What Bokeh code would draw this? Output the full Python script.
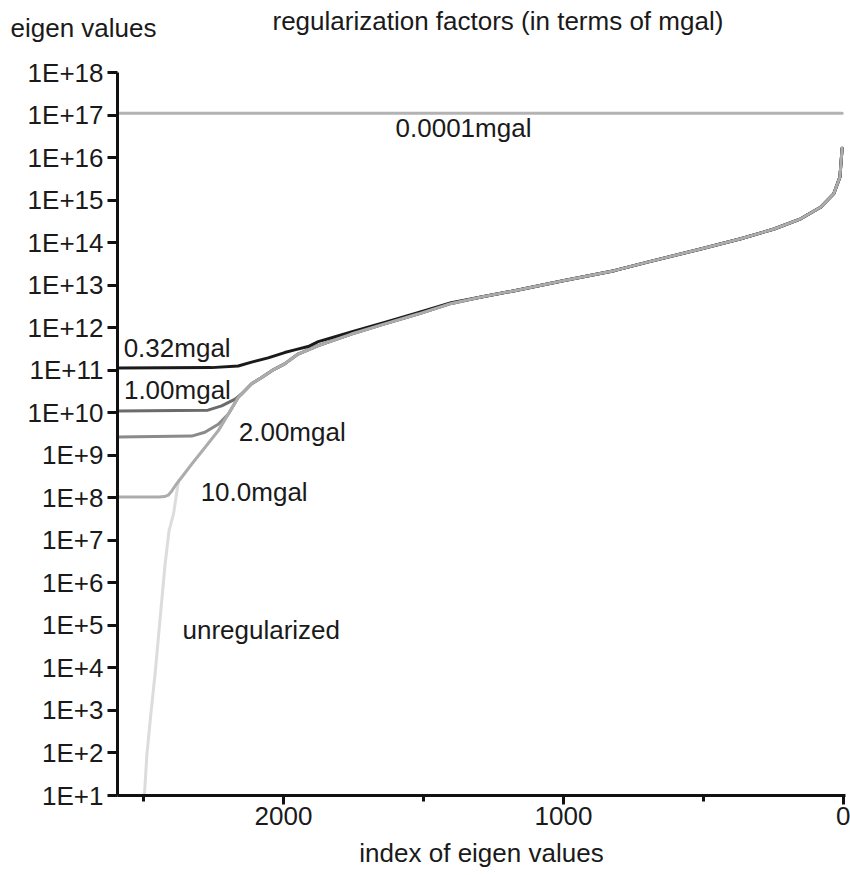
from bokeh.plotting import figure
from bokeh.layouts import column
from bokeh.models import Range1d, FixedTicker, CustomJSTickFormatter, Label
from bokeh.core.properties import value
from bokeh.embed import file_html
from bokeh.resources import INLINE

# Unregularized eigenvalue spectrum: index of eigenvalue and its magnitude
unreg_idx = [5, 13, 35, 82, 153, 248, 367, 510, 700, 819,
             997, 1175, 1294, 1401, 1520, 1639, 1758, 1876, 1948, 1996,
             2042, 2078, 2114, 2162, 2197, 2233, 2281, 2328, 2364, 2375,
             2393, 2409, 2423, 2435, 2447, 2459, 2474, 2488, 2497]
unreg_val = [1.66e16, 3.47e15, 1.41e15, 6.76e14, 3.63e14, 2.09e14, 1.23e14, 7.08e13, 3.47e13, 2.19e13,
             1.29e13, 7.41e12, 5.25e12, 3.72e12, 2.09e12, 1.23e12, 7.08e11, 3.80e11, 2.40e11, 1.41e11,
             9.77e10, 6.76e10, 4.79e10, 2.29e10, 9.33e9, 3.80e9, 1.51e9, 6.17e8, 3.02e8, 2.51e8,
             4.17e7, 1.66e7, 2.75e6, 3.80e5, 5.13e4, 7.08e3, 8.13e2, 9.30e1, 1.0e1]

# Regularized spectra: each follows the unregularized one up to its join index,
# then levels off at the regularization floor.
r032_join = 1294
r032_idx = [1401, 1520, 1639, 1758, 1876, 1912, 1960, 1996, 2055, 2114, 2162, 2257, 2590]
r032_val = [3.85e12, 2.25e12, 1.32e12, 7.9e11, 4.7e11, 3.6e11, 3.0e11, 2.6e11, 1.95e11, 1.55e11, 1.26e11, 1.15e11, 1.12e11]

r100_join = 2114
r100_idx = [2150, 2173, 2221, 2270, 2590]
r100_val = [2.75e10, 2.09e10, 1.45e10, 1.15e10, 1.10e10]

r200_join = 2162
r200_idx = [2197, 2233, 2281, 2328, 2590]
r200_val = [9.33e9, 5.37e9, 3.47e9, 2.82e9, 2.70e9]

r10_join = 2364
r10_idx = [2385, 2399, 2412, 2425, 2445, 2590]
r10_val = [2.0e8, 1.45e8, 1.15e8, 1.07e8, 1.05e8, 1.05e8]

r00001_idx = [2590, 5]
r00001_val = [1.1e17, 1.1e17]

y_ticks = [1e1, 1e2, 1e3, 1e4, 1e5, 1e6, 1e7, 1e8, 1e9,
           1e10, 1e11, 1e12, 1e13, 1e14, 1e15, 1e16, 1e17, 1e18]
x_ticks = [2000, 1000, 0]
x_minor = [2500, 1500, 500]

headings = ["eigen values", "regularization factors (in terms of mgal)"]


def joined(join, idx, val):
    xs = [i for i in unreg_idx if i <= join] + idx
    ys = [v for i, v in zip(unreg_idx, unreg_val) if i <= join] + val
    return xs, ys


FONT = "Liberation Sans"
TXT = "#1a1a1a"
HEAD_H = 46

# --- heading strip: y-axis caption and the legend heading (pixel coordinates)
head = figure(width=850, height=HEAD_H, output_backend="svg", toolbar_location=None,
              x_range=Range1d(0, 850), y_range=Range1d(HEAD_H, 0),
              x_axis_location=None, y_axis_location=None,
              min_border=0, outline_line_color=None)
head.frame_align = False
head.xgrid.grid_line_color = None
head.ygrid.grid_line_color = None
head.text(x=[10, 272], y=[27, 20], text=headings,
          text_font=value(FONT), text_font_size="26px", text_color=TXT,
          text_align="left", text_baseline="alphabetic")

# --- main chart
p = figure(width=850, height=875 - HEAD_H, output_backend="svg", toolbar_location=None,
           y_axis_type="log",
           x_range=Range1d(2593, -7), y_range=Range1d(1e1, 1e18),
           min_border_left=117, min_border_right=5,
           min_border_top=72 - HEAD_H, min_border_bottom=80)
p.frame_align = False
p.outline_line_color = None
p.xgrid.grid_line_color = None
p.ygrid.grid_line_color = None
p.background_fill_color = "white"
p.border_fill_color = "white"

line_kw = dict(line_width=3, line_join="round", line_cap="round")

p.line(unreg_idx, unreg_val, line_color="#dcdcdc", **line_kw)
p.line(r00001_idx, r00001_val, line_color="#b3b3b3", **line_kw)
xs, ys = joined(r200_join, r200_idx, r200_val)
p.line(xs, ys, line_color="#8a8a8a", **line_kw)
xs, ys = joined(r100_join, r100_idx, r100_val)
p.line(xs, ys, line_color="#6b6b6b", **line_kw)
xs, ys = joined(r032_join, r032_idx, r032_val)
p.line(xs, ys, line_color="#1a1a1a", **line_kw)
xs, ys = joined(r10_join, r10_idx, r10_val)
p.line(xs, ys, line_color="#acacac", **line_kw)

# axes
for ax in (p.xaxis[0], p.yaxis[0]):
    ax.axis_line_width = 3
    ax.axis_line_color = "#111111"
    ax.major_tick_line_width = 3
    ax.major_tick_line_color = "#111111"
    ax.major_tick_in = 0
    ax.major_label_text_font = FONT
    ax.major_label_text_font_size = "26px"
    ax.major_label_text_color = TXT

p.yaxis.ticker = FixedTicker(ticks=y_ticks)
p.yaxis.formatter = CustomJSTickFormatter(
    code="return '1E+' + Math.round(Math.log10(tick));")
p.yaxis.major_tick_out = 10
p.yaxis.minor_tick_line_color = None
p.yaxis.major_label_standoff = 4

p.xaxis.ticker = FixedTicker(ticks=x_ticks, minor_ticks=x_minor)
p.xaxis.major_tick_out = 9
p.xaxis.minor_tick_out = 6
p.xaxis.minor_tick_in = 0
p.xaxis.minor_tick_line_width = 3
p.xaxis.minor_tick_line_color = "#111111"
p.xaxis.major_label_standoff = 2
p.xaxis.axis_label = "index of eigen values"
p.xaxis.axis_label_text_font = FONT
p.xaxis.axis_label_text_font_size = "26px"
p.xaxis.axis_label_text_font_style = "normal"
p.xaxis.axis_label_text_color = TXT
p.xaxis.axis_label_standoff = 10

lab_kw = dict(text_font=FONT, text_font_size="26px", text_color=TXT,
              text_align="left", text_baseline="middle")

# curve labels
p.add_layout(Label(x=1600, y=4.9e16, text="0.0001mgal", **lab_kw))
p.add_layout(Label(x=2571, y=3.4e11, text="0.32mgal", **lab_kw))
p.add_layout(Label(x=2570, y=3.5e10, text="1.00mgal", **lab_kw))
p.add_layout(Label(x=2160, y=3.6e9, text="2.00mgal", **lab_kw))
p.add_layout(Label(x=2296, y=1.4e8, text="10.0mgal", **lab_kw))
p.add_layout(Label(x=2361, y=7.6e4, text="unregularized", **lab_kw))

layout = column(head, p, spacing=0)
open("out.html", "w").write(file_html(layout, INLINE))
